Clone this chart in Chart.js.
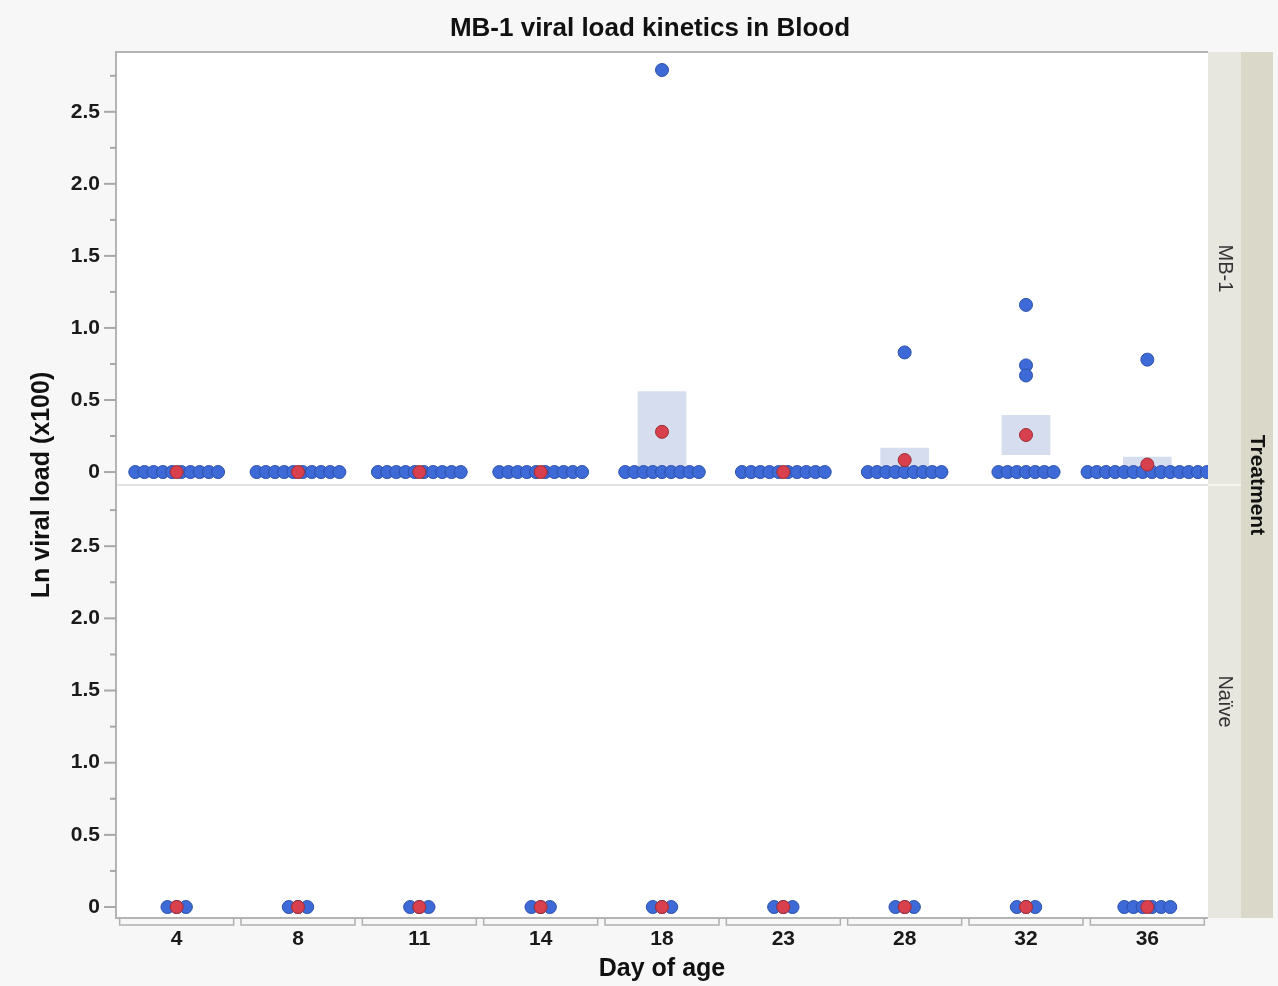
<!DOCTYPE html>
<html>
<head>
<meta charset="utf-8">
<script src="https://cdn.jsdelivr.net/npm/chart.js@4.4.0/dist/chart.umd.min.js"></script>
<style>
  html, body { margin: 0; padding: 0; background: #f7f7f7; }
  #wrap { width: 1278px; height: 986px; }
</style>
</head>
<body>
<div id="wrap"><canvas id="grafico" width="1278" height="986"></canvas></div>
<script>
// dias de coleta
const days = ['4', '8', '11', '14', '18', '23', '28', '32', '36'];

// Ln viral load (x100), grupo MB-1, uma lista por dia
const mb1Values = [
  [0, 0, 0, 0, 0, 0, 0, 0, 0, 0],
  [0, 0, 0, 0, 0, 0, 0, 0, 0, 0],
  [0, 0, 0, 0, 0, 0, 0, 0, 0, 0],
  [0, 0, 0, 0, 0, 0, 0, 0, 0, 0],
  [0, 0, 0, 0, 0, 0, 0, 0, 0, 2.79],
  [0, 0, 0, 0, 0, 0, 0, 0, 0, 0],
  [0, 0, 0, 0, 0, 0, 0, 0, 0, 0.83],
  [0, 0, 0, 0, 0, 0, 0, 1.16, 0.74, 0.67],
  [0, 0, 0, 0, 0, 0, 0, 0, 0, 0, 0, 0, 0, 0, 0.78]
];

// grupo Naïve
const naiveValues = [
  [0, 0, 0],
  [0, 0, 0],
  [0, 0, 0],
  [0, 0, 0],
  [0, 0, 0],
  [0, 0, 0],
  [0, 0, 0],
  [0, 0, 0],
  [0, 0, 0, 0, 0, 0]
];

const yTicks = [0, 0.5, 1, 1.5, 2, 2.5];

const FONTE = '"Liberation Sans", Arial, sans-serif';
const passo = 0.0758; // afastamento horizontal entre pontos iguais

function pontos(valores) {
  const out = [];
  valores.forEach((lista, i) => {
    const zeros = lista.filter(v => v === 0).length;
    let k = 0;
    lista.forEach(v => {
      if (v === 0) {
        out.push({ x: i + (k - (zeros - 1) / 2) * passo, y: v });
        k++;
      } else {
        out.push({ x: i, y: v });
      }
    });
  });
  return out;
}

function media(l) {
  return l.reduce((a, b) => a + b, 0) / l.length;
}

function erroPadrao(l) {
  const m = media(l);
  const s = l.reduce((a, v) => a + (v - m) ** 2, 0) / (l.length - 1);
  return Math.sqrt(s / l.length);
}

const caixasMb1 = mb1Values.map((l, i) => {
  const m = media(l), se = erroPadrao(l);
  return { x: i, y: [m - se, m + se] };
});

function eixoY(min, max) {
  return {
    type: 'linear',
    position: 'left',
    stack: 'painel',
    stackWeight: 1,
    min: min,
    max: max,
    afterBuildTicks: ax => { ax.ticks = yTicks.map(v => ({ value: v })); },
    afterFit: s => { s.width = 116; },
    ticks: {
      callback: v => v === 0 ? '0' : v.toFixed(1),
      font: { family: FONTE, size: 21, weight: 'bold' },
      color: '#1a1a1a',
      padding: 16
    },
    grid: { display: false, drawTicks: false },
    border: { display: false }
  };
}

const moldura = {
  id: 'moldura',
  beforeDatasetsDraw(chart) {
    const { ctx, chartArea: a } = chart;
    ctx.save();
    ctx.fillStyle = '#ffffff';
    ctx.fillRect(a.left, a.top, a.right - a.left, a.bottom - a.top);
    ctx.restore();
  },
  afterDatasetsDraw(chart) {
    const { ctx, chartArea: a, scales } = chart;
    const meio = scales.yM.bottom;
    ctx.save();

    // faixas da direita
    ctx.fillStyle = '#e7e6df';
    ctx.fillRect(a.right, a.top, 33, a.bottom - a.top);
    ctx.fillStyle = '#dad8c8';
    ctx.fillRect(a.right + 33, a.top, 32, a.bottom - a.top);
    ctx.strokeStyle = '#f4f4f0';
    ctx.lineWidth = 2;
    ctx.beginPath();
    ctx.moveTo(a.right, meio); ctx.lineTo(a.right + 33, meio);
    ctx.stroke();

    // divisória e moldura
    ctx.strokeStyle = '#d9d9d9';
    ctx.lineWidth = 1.5;
    ctx.beginPath();
    ctx.moveTo(a.left, meio); ctx.lineTo(a.right, meio);
    ctx.stroke();
    ctx.strokeStyle = '#b4b4b4';
    ctx.lineWidth = 2;
    ctx.beginPath();
    ctx.moveTo(a.right, a.top); ctx.lineTo(a.left, a.top); ctx.lineTo(a.left, a.bottom); ctx.lineTo(a.right, a.bottom);
    ctx.stroke();

    // marcas do eixo y (maiores a cada 0.5)
    ctx.strokeStyle = '#a8a8a8';
    ctx.lineWidth = 2;
    ['yM', 'yN'].forEach(id => {
      const s = scales[id];
      for (let k = 0; k <= 11; k++) {
        const v = k * 0.25;
        const y = s.getPixelForValue(v);
        if (y < s.top || y > s.bottom) continue;
        const len = k % 2 === 0 ? 12 : 6;
        ctx.beginPath();
        ctx.moveTo(a.left - len, y); ctx.lineTo(a.left, y);
        ctx.stroke();
      }
    });

    // colchetes das categorias
    ctx.strokeStyle = '#b0b0b0';
    ctx.lineWidth = 1.5;
    days.forEach((d, i) => {
      const c = scales.x.getPixelForValue(i);
      ctx.beginPath();
      ctx.moveTo(c - 57, a.bottom); ctx.lineTo(c - 57, a.bottom + 7);
      ctx.lineTo(c + 57, a.bottom + 7); ctx.lineTo(c + 57, a.bottom);
      ctx.stroke();
    });

    // textos
    ctx.fillStyle = '#111';
    ctx.textAlign = 'center';
    ctx.textBaseline = 'middle';
    ctx.font = 'bold 26px ' + FONTE;
    ctx.fillText('MB-1 viral load kinetics in Blood', 650, 29);
    ctx.font = 'bold 25px ' + FONTE;
    ctx.fillText('Day of age', (a.left + a.right) / 2, 969);
    ctx.save();
    ctx.translate(42, (a.top + a.bottom) / 2);
    ctx.rotate(-Math.PI / 2);
    ctx.fillText('Ln viral load (x100)', 0, 0);
    ctx.restore();

    ctx.fillStyle = '#333';
    ctx.font = '20px ' + FONTE;
    [['MB-1', (a.top + meio) / 2], ['Naïve', (meio + a.bottom) / 2]].forEach(([t, y]) => {
      ctx.save();
      ctx.translate(a.right + 16.5, y);
      ctx.rotate(Math.PI / 2);
      ctx.fillText(t, 0, 0);
      ctx.restore();
    });
    ctx.fillStyle = '#111';
    ctx.font = 'bold 21px ' + FONTE;
    ctx.save();
    ctx.translate(a.right + 49, (a.top + a.bottom) / 2);
    ctx.rotate(Math.PI / 2);
    ctx.fillText('Treatment', 0, 0);
    ctx.restore();

    ctx.restore();
  }
};

const azul = { backgroundColor: '#3d6ad6', borderColor: '#2d51ad', borderWidth: 1, pointRadius: 6.5, pointHoverRadius: 6.5 };
const vermelho = { backgroundColor: '#d8404d', borderColor: '#a02c37', borderWidth: 1, pointRadius: 6.5, pointHoverRadius: 6.5 };

new Chart(document.getElementById('grafico'), {
  type: 'scatter',
  data: {
    datasets: [
      {
        type: 'bar',
        label: 'Erro padrão MB-1',
        data: caixasMb1,
        yAxisID: 'yM',
        backgroundColor: '#d5ddef',
        borderWidth: 0,
        barThickness: 48,
        grouped: false,
        order: 3
      },
      Object.assign({ label: 'MB-1', data: pontos(mb1Values), yAxisID: 'yM', order: 2 }, azul),
      Object.assign({ label: 'Naïve', data: pontos(naiveValues), yAxisID: 'yN', order: 2 }, azul),
      Object.assign({ label: 'Média MB-1', data: mb1Values.map((l, i) => ({ x: i, y: media(l) })), yAxisID: 'yM', order: 1 }, vermelho),
      Object.assign({ label: 'Média Naïve', data: naiveValues.map((l, i) => ({ x: i, y: media(l) })), yAxisID: 'yN', order: 1 }, vermelho)
    ]
  },
  options: {
    responsive: false,
    animation: false,
    devicePixelRatio: 1,
    layout: { padding: { top: 52, right: 70, left: 0, bottom: 0 } },
    plugins: { legend: { display: false }, tooltip: { enabled: false }, title: { display: false } },
    scales: {
      x: {
        type: 'linear',
        offset: false,
        min: -0.5,
        max: 8.5,
        afterBuildTicks: ax => { ax.ticks = days.map((d, i) => ({ value: i })); },
        afterFit: s => { s.height = 68; },
        ticks: {
          callback: v => days[v],
          font: { family: FONTE, size: 21, weight: 'bold' },
          color: '#1a1a1a',
          padding: 9,
          maxRotation: 0,
          autoSkip: false
        },
        grid: { display: false, drawTicks: false, offset: false },
        border: { display: false }
      },
      yN: eixoY(-0.076, 2.924),
      yM: eixoY(-0.09, 2.915)
    }
  },
  plugins: [moldura]
});
</script>
</body>
</html>
